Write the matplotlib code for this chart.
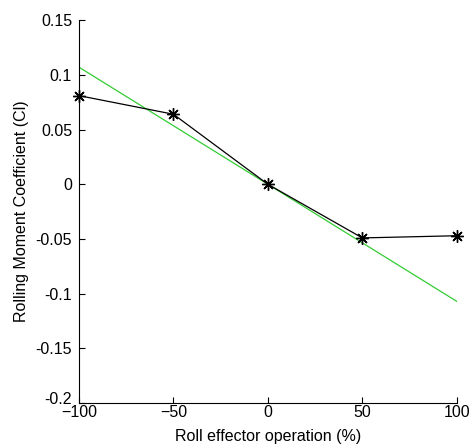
import matplotlib
matplotlib.use("Agg")
import matplotlib.pyplot as plt
import matplotlib.transforms as mtransforms

# measured points
effector_pct = [-100, -50, 0, 50, 100]
roll_cl = [0.081, 0.064, 0.0, -0.049, -0.047]

# linear fit
fit_x = [-100, 100]
fit_cl = [0.107, -0.107]

plt.rcParams['font.family'] = ['Liberation Sans', 'DejaVu Sans']
plt.rcParams['font.size'] = 11.5

fig = plt.figure(figsize=(4.70, 4.47), dpi=100)
ax = fig.add_axes([0.168, 0.098, 0.804, 0.857])

ax.plot(fit_x, fit_cl, color='#33cc33', lw=0.9)
ax.plot(effector_pct, roll_cl, color='black', lw=0.9, marker=(8, 2, 0), markersize=9,
        markeredgewidth=1.0, clip_on=False)

ax.set_xlim(-100, 100)
ax.set_ylim(-0.2, 0.15)
ax.set_xticks([-100, -50, 0, 50, 100])
ax.set_yticks([-0.2, -0.15, -0.1, -0.05, 0, 0.05, 0.1, 0.15])
ax.set_yticklabels(['-0.2', '-0.15', '-0.1', '-0.05', '0', '0.05', '0.1', '0.15'])
ax.spines['top'].set_visible(False)
ax.spines['right'].set_visible(False)
ax.tick_params(direction='in', length=4, width=0.8)
ax.tick_params(axis='x', pad=1)
ax.tick_params(axis='y', pad=5)

# lift the bottom y label a little, like the original
lab = ax.get_yticklabels()[0]
lab.set_transform(lab.get_transform() + mtransforms.ScaledTranslation(0, 4 / 72, fig.dpi_scale_trans))

ax.set_xlabel('Roll effector operation (%)', labelpad=7)
ax.set_ylabel('Rolling Moment Coefficient (Cl)', labelpad=5)

fig.savefig('out.png', dpi=100)
